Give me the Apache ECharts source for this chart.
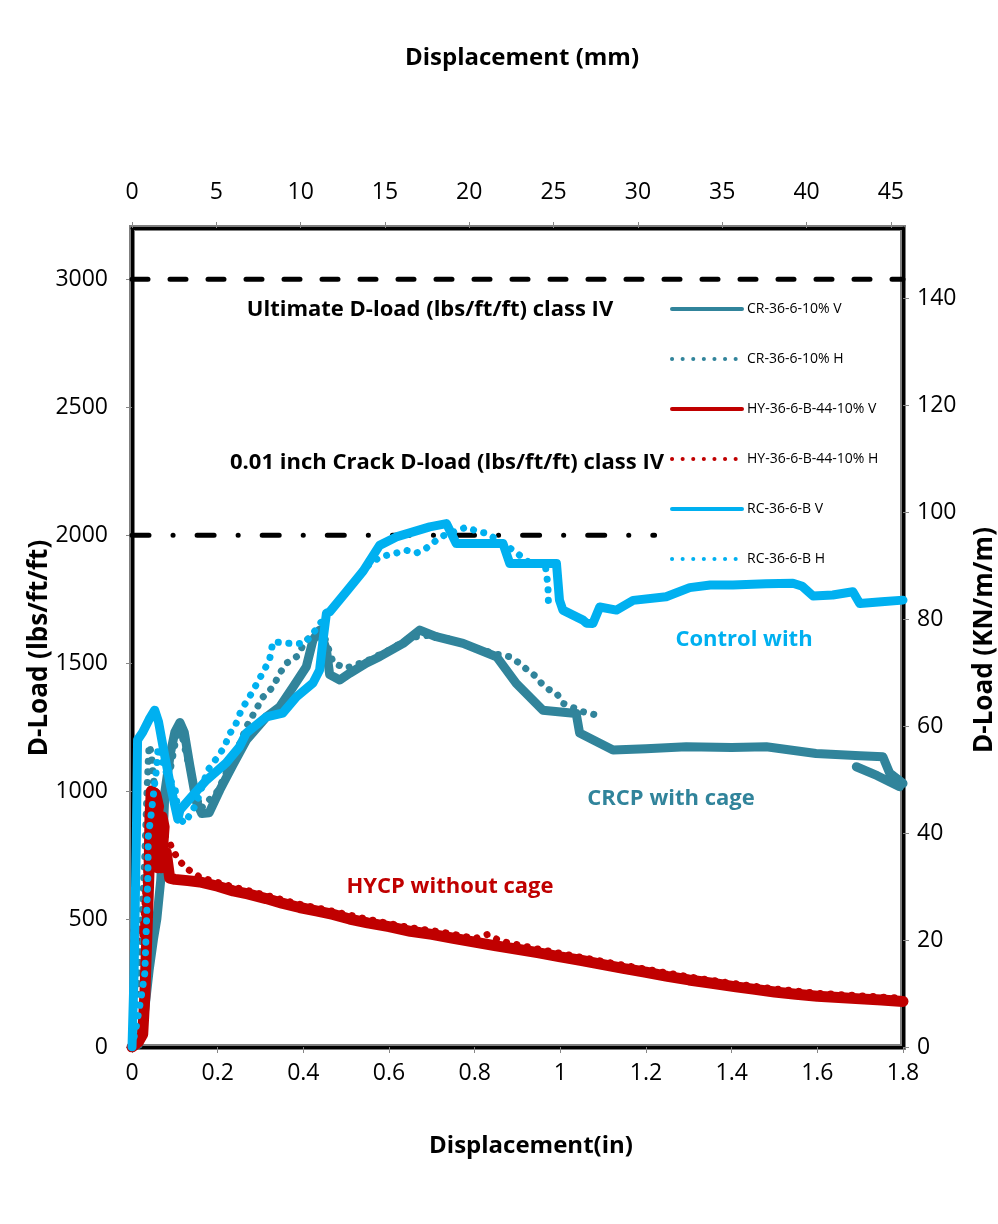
<!DOCTYPE html>
<html>
<head>
<meta charset="utf-8">
<script src="https://cdn.jsdelivr.net/npm/echarts@6/dist/echarts.min.js"></script>
<style>
  html, body { margin: 0; padding: 0; background: #fff; }
  #chart { width: 998px; height: 1224px; }
</style>
</head>
<body>
<div id="chart"></div>
<script>
// Pipe three-edge bearing tests: displacement (in) vs. D-load (lbs/ft/ft)
const FONT = '"Open Sans", Lato, sans-serif';

const seriesNames = ['CR-36-6-10% V', 'CR-36-6-10% H', 'HY-36-6-B-44-10% V', 'HY-36-6-B-44-10% H', 'RC-36-6-B V', 'RC-36-6-B H'];

// CRCP with cage, vertical displacement
const crV = [[0,0],[0.015,10],[0.025,80],[0.03,150],[0.04,300],[0.05,420],[0.058,500],[0.067,650],[0.072,800],[0.077,1000],
  [0.09,1150],[0.1,1230],[0.112,1268],[0.122,1230],[0.135,1100],[0.15,960],[0.163,912],[0.18,915],[0.205,1004],[0.235,1100],
  [0.267,1199],[0.314,1290],[0.345,1329],[0.376,1407],[0.407,1486],[0.4225,1590],[0.438,1629],[0.454,1551],[0.4615,1455],
  [0.485,1434],[0.508,1460],[0.547,1500],[0.578,1525],[0.633,1577],[0.672,1629],[0.71,1603],[0.773,1577],[0.851,1525],
  [0.897,1421],[0.959,1316],[1.037,1303],[1.045,1227],[1.123,1160],[1.2,1165],[1.294,1173],[1.4,1170],[1.481,1173],
  [1.597,1147],[1.7,1138],[1.753,1134],[1.769,1070],[1.8,1030]];
const crVTail = [[1.691,1095],[1.74,1060],[1.792,1017]];
// CRCP with cage, horizontal displacement
const crH = [[0,0],[0.01,150],[0.02,400],[0.03,750],[0.035,1000],[0.038,1120],[0.04,1180],[0.045,1150],[0.05,1050],
  [0.06,950],[0.08,1000],[0.1,1180],[0.112,1250],[0.13,1120],[0.16,930],[0.2,1000],[0.25,1180],[0.27,1260],[0.306,1368],
  [0.329,1407],[0.345,1460],[0.36,1499],[0.384,1525],[0.407,1590],[0.43,1616],[0.45,1600],[0.47,1500],[0.5,1480],
  [0.55,1510],[0.6,1550],[0.65,1600],[0.7,1610],[0.75,1590],[0.8,1560],[0.85,1535],[0.882,1525],[0.905,1499],
  [0.928,1466],[0.944,1447],[0.959,1414],[0.975,1395],[0.991,1383],[1.006,1343],[1.053,1310],[1.084,1297]];

// HYCP without cage, vertical displacement
const hyV = [[0,0],[0.015,20],[0.025,50],[0.03,200],[0.035,450],[0.04,700],[0.042,900],[0.045,1000],[0.055,990],
  [0.062,940],[0.05,820],[0.06,700],[0.07,900],[0.075,860],[0.068,700],[0.08,760],[0.088,660],[0.1,655],[0.13,650],
  [0.158,645],[0.2,628],[0.236,610],[0.27,598],[0.313,580],[0.35,562],[0.391,545],[0.43,532],[0.469,518],[0.508,500],
  [0.55,485],[0.6,470],[0.65,452],[0.7,440],[0.75,425],[0.8,410],[0.85,395],[0.9,382],[0.95,368],[1.0,352],[1.05,338],
  [1.1,322],[1.15,306],[1.2,292],[1.25,276],[1.3,262],[1.35,250],[1.41,235],[1.45,226],[1.5,215],[1.55,206],[1.6,198],
  [1.65,193],[1.7,188],[1.75,184],[1.8,178]];
// HYCP without cage, horizontal displacement
const hyH = [[0,0],[0.003,200],[0.005,480],[0.01,420],[0.02,480],[0.025,430],[0.03,550],[0.035,700],[0.04,900],
  [0.05,1000],[0.058,960],[0.065,900],[0.075,830],[0.09,790],[0.105,740],[0.125,700],[0.16,662],[0.24,624],[0.31,594],
  [0.39,558],[0.47,530],[0.55,499],[0.65,466],[0.72,450],[0.8,424],[0.83,440],[0.86,414],[0.95,382],[1.0,366],[1.1,334],
  [1.2,304],[1.3,274],[1.4,249],[1.5,227],[1.6,210],[1.7,200],[1.8,190]];

// Control (RCP) with cage, vertical displacement
const rcV = [[0,0],[0.005,300],[0.01,800],[0.013,1200],[0.025,1230],[0.04,1280],[0.053,1316],[0.062,1270],[0.075,1150],
  [0.09,1020],[0.107,890],[0.112,926],[0.14,980],[0.174,1043],[0.22,1110],[0.251,1173],[0.267,1227],[0.314,1290],
  [0.352,1305],[0.384,1368],[0.4225,1422],[0.438,1473],[0.446,1590],[0.454,1695],[0.4615,1700],[0.5,1778],[0.54,1860],
  [0.578,1960],[0.617,1993],[0.695,2032],[0.734,2045],[0.757,1967],[0.866,1967],[0.882,1889],[0.991,1889],[0.998,1746],
  [1.006,1707],[1.053,1668],[1.061,1656],[1.076,1655],[1.092,1719],[1.131,1707],[1.17,1745],[1.247,1759],[1.302,1795],
  [1.35,1805],[1.403,1805],[1.48,1810],[1.543,1812],[1.565,1800],[1.59,1762],[1.636,1766],[1.683,1779],[1.699,1733],
  [1.75,1740],[1.8,1746]];
// Control (RCP) with cage, horizontal displacement
const rcH = [[0,0],[0.01,80],[0.02,180],[0.03,290],[0.034,496],[0.037,665],[0.038,821],[0.045,913],[0.053,1030],
  [0.057,1082],[0.061,1173],[0.065,1180],[0.069,1121],[0.084,1056],[0.1,1017],[0.104,965],[0.107,913],[0.115,887],
  [0.123,874],[0.15,950],[0.177,1082],[0.2,1134],[0.216,1173],[0.228,1225],[0.24,1251],[0.255,1316],[0.279,1382],
  [0.298,1440],[0.321,1512],[0.329,1583],[0.368,1577],[0.403,1577],[0.4225,1616],[0.45,1680],[0.5,1780],[0.55,1880],
  [0.578,1914],[0.617,1930],[0.64,1941],[0.664,1930],[0.687,1949],[0.703,1969],[0.718,1992],[0.78,2031],[0.811,2012],
  [0.827,2008],[0.87,1965],[0.93,1890],[0.965,1880],[0.967,1857],[0.971,1805],[0.972,1746],[0.973,1707]];

// Class IV design loads
const ultimateLoad = [[0,3000],[1.8,3000]];
const crackLoad = [[0,2000],[1.22,2000]];

// Axis ranges
const inchAxis = { min: 0, max: 1.8, interval: 0.2 };
const mmAxis = { min: 0, max: 45.72, interval: 5 };
const lbsAxis = { min: 0, max: 3200, interval: 500 };
const knAxis = { min: 0, max: 153.2, interval: 20 };

const C_CR = '#31849B', C_HY = '#C00000', C_RC = '#00B0F0';

function solid(name, data, color, z, width) {
  return { name, type: 'line', data, symbol: 'none', showSymbol: false, z, silent: true,
    lineStyle: { color, width: width || 9, cap: 'round', join: 'round' }, itemStyle: { color } };
}
function dotted(name, data, color, z) {
  return { name, type: 'line', data, symbol: 'none', showSymbol: false, z, silent: true,
    lineStyle: { color, width: 7, type: [0.1, 10.5], cap: 'round', join: 'round' }, itemStyle: { color } };
}

const tickStyle = { show: true, length: 6, lineStyle: { color: '#868686', width: 1 } };
const labelStyle = { fontFamily: FONT, fontSize: 23, color: '#000', formatter: v => String(v) };

const chart = echarts.init(document.getElementById('chart'), null, { renderer: 'canvas' });
chart.setOption({
  animation: false,
  backgroundColor: '#fff',
  grid: { left: 132, right: 95, top: 228, bottom: 177, show: true, borderColor: '#7f7f7f', borderWidth: 6 },
  legend: {
    data: seriesNames, orient: 'vertical', left: 665, top: 297,
    itemWidth: 70, itemHeight: 14, itemGap: 36, selectedMode: false,
    lineStyle: { width: 4 }, itemStyle: { opacity: 0 },
    textStyle: { fontFamily: FONT, fontSize: 14, color: '#000' }
  },
  xAxis: [
    Object.assign({ type: 'value', position: 'bottom', splitLine: { show: false },
      axisLine: { show: true, onZero: false, lineStyle: { color: '#000', width: 3 } },
      axisTick: tickStyle, axisLabel: Object.assign({ margin: 15 }, labelStyle) }, inchAxis),
    Object.assign({ type: 'value', position: 'top', splitLine: { show: false },
      axisLine: { show: true, onZero: false, lineStyle: { color: '#000', width: 3 } },
      axisTick: tickStyle, axisLabel: Object.assign({ margin: 24, showMaxLabel: false }, labelStyle) }, mmAxis)
  ],
  yAxis: [
    Object.assign({ type: 'value', position: 'left', splitLine: { show: false },
      axisLine: { show: true, onZero: false, lineStyle: { color: '#000', width: 3 } },
      axisTick: tickStyle, axisLabel: Object.assign({ margin: 24, showMaxLabel: false }, labelStyle) }, lbsAxis),
    Object.assign({ type: 'value', position: 'right', splitLine: { show: false },
      axisLine: { show: true, onZero: false, lineStyle: { color: '#000', width: 3 } },
      axisTick: tickStyle, axisLabel: Object.assign({ margin: 14, showMaxLabel: false }, labelStyle) }, knAxis)
  ],
  series: [
    { name: 'Ultimate', type: 'line', data: ultimateLoad, symbol: 'none', z: 1, silent: true,
      lineStyle: { color: '#000', width: 5, type: [16, 22], cap: 'round' } },
    { name: 'Crack', type: 'line', data: crackLoad, symbol: 'none', z: 1, silent: true,
      lineStyle: { color: '#000', width: 5, type: [17, 24, 0.1, 24], cap: 'round' } },
    solid(seriesNames[0], crV, C_CR, 2),
    { type: 'line', data: crVTail, symbol: 'none', z: 2, silent: true,
      lineStyle: { color: C_CR, width: 9, cap: 'round', join: 'round' } },
    dotted(seriesNames[1], crH, C_CR, 3),
    solid(seriesNames[2], hyV, C_HY, 4, 11),
    dotted(seriesNames[3], hyH, C_HY, 5),
    solid(seriesNames[4], rcV, C_RC, 6),
    dotted(seriesNames[5], rcH, C_RC, 7)
  ],
  graphic: [
    { type: 'text', x: 522, y: 58, style: { text: 'Displacement (mm)', font: 'bold 24px ' + FONT, fill: '#000', align: 'center', verticalAlign: 'middle' } },
    { type: 'text', x: 531, y: 1146, style: { text: 'Displacement(in)', font: 'bold 24px ' + FONT, fill: '#000', align: 'center', verticalAlign: 'middle' } },
    { type: 'text', x: 40, y: 648, rotation: Math.PI / 2, style: { text: 'D-Load (lbs/ft/ft)', font: 'bold 26px ' + FONT, fill: '#000', align: 'center', verticalAlign: 'middle' } },
    { type: 'text', x: 985, y: 640, rotation: Math.PI / 2, style: { text: 'D-Load (KN/m/m)', font: 'bold 26px ' + FONT, fill: '#000', align: 'center', verticalAlign: 'middle' } },
    { type: 'text', x: 430, y: 310, z: 10, style: { text: 'Ultimate D-load (lbs/ft/ft) class IV', font: 'bold 22px ' + FONT, fill: '#000', align: 'center', verticalAlign: 'middle' } },
    { type: 'text', x: 447, y: 463, z: 10, style: { text: '0.01 inch Crack D-load (lbs/ft/ft) class IV', font: 'bold 22px ' + FONT, fill: '#000', align: 'center', verticalAlign: 'middle' } },
    { type: 'text', x: 744, y: 640, z: 10, style: { text: 'Control with', font: 'bold 22px ' + FONT, fill: C_RC, align: 'center', verticalAlign: 'middle' } },
    { type: 'text', x: 671, y: 799, z: 10, style: { text: 'CRCP with cage', font: 'bold 22px ' + FONT, fill: C_CR, align: 'center', verticalAlign: 'middle' } },
    { type: 'text', x: 450, y: 887, z: 10, style: { text: 'HYCP without cage', font: 'bold 22px ' + FONT, fill: C_HY, align: 'center', verticalAlign: 'middle' } }
  ]
});
</script>
</body>
</html>
